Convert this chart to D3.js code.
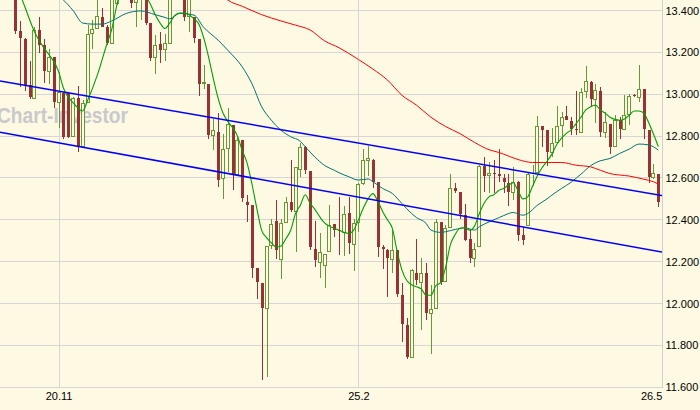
<!DOCTYPE html>
<html>
<head>
<meta charset="utf-8">
<script src="https://cdn.jsdelivr.net/npm/d3@7"></script>
<style>
  body { margin: 0; background: #fef9e3; }
  svg { display: block; font-family: "Liberation Sans", Arial, sans-serif; }
</style>
</head>
<body>
<div id="chart"></div>
<script>
// daily candles (first ones are cut at the top)
var openP = [13.56,13.301,13.263,13.043,12.975,13.306,13.234,13.107,13.176,12.956,
  13.008,13.007,12.797,12.980,12.749,12.959,13.287,13.314,13.370,13.319,
  13.242,13.430,13.520,13.600,13.500,13.434,13.460,13.470,13.338,13.171,
  13.238,13.211,13.242,13.480,13.550,13.480,13.367,13.367,13.262,13.047,
  13.048,12.801,12.820,12.593,12.736,12.852,12.613,12.781,12.483,12.470,
  12.168,12.099,11.972,12.274,12.395,12.207,12.386,12.486,12.438,12.640,
  12.749,12.634,12.263,12.195,12.180,12.244,12.379,12.351,12.335,12.434,
  12.282,12.383,12.569,12.682,12.688,12.582,12.271,12.258,12.207,12.255,
  12.040,11.897,11.742,12.148,12.096,12.148,11.948,11.976,12.392,12.104,
  12.362,12.550,12.531,12.422,12.308,12.215,12.268,12.658,12.609,12.626,
  12.617,12.601,12.577,12.526,12.582,12.327,12.371,12.618,12.625,12.849,
  12.828,12.720,12.765,12.849,12.895,12.873,12.836,12.816,13.012,13.059,
  12.972,13.016,12.816,12.860,12.746,12.876,12.828,12.900,12.996,12.984,
  13.027,12.828,12.598,12.621];
var highP = [13.60,13.351,13.270,13.158,13.319,13.367,13.262,13.214,13.180,13.107,
  13.010,13.012,12.988,13.039,12.972,13.330,13.354,13.500,13.414,13.330,
  13.500,13.530,13.620,13.640,13.530,13.500,13.520,13.500,13.340,13.282,
  13.298,13.290,13.520,13.600,13.600,13.500,13.500,13.370,13.262,13.139,
  13.050,12.884,12.908,12.812,12.935,12.855,12.800,12.781,12.518,12.470,
  12.168,12.100,12.274,12.406,12.494,12.406,12.507,12.685,12.653,12.768,
  12.755,12.634,12.395,12.338,12.239,12.470,12.379,12.510,12.465,12.510,
  12.402,12.577,12.738,12.752,12.690,12.582,12.282,12.260,12.351,12.255,
  12.096,11.929,12.163,12.308,12.218,12.195,12.088,12.402,12.392,12.375,
  12.621,12.577,12.535,12.478,12.354,12.287,12.661,12.698,12.674,12.688,
  12.736,12.621,12.621,12.653,12.585,12.367,12.625,12.661,12.895,12.850,
  12.830,12.839,12.943,12.916,12.943,12.892,13.015,13.032,13.134,13.062,
  13.047,13.035,12.916,12.860,12.900,12.889,12.996,12.999,13.000,13.139,
  13.027,12.828,12.669,12.621];
var lowP = [13.290,13.035,13.016,12.977,12.975,13.198,13.055,13.051,12.935,12.840,
  12.784,12.789,12.797,12.725,12.749,12.959,13.214,13.314,13.322,13.234,
  13.242,13.425,13.480,13.490,13.414,13.322,13.354,13.330,13.160,13.096,
  13.147,13.160,13.242,13.460,13.470,13.351,13.298,13.246,12.992,13.023,
  12.784,12.733,12.558,12.499,12.629,12.542,12.613,12.486,12.390,12.123,
  12.021,11.637,11.647,12.263,12.215,12.115,12.386,12.438,12.247,12.606,
  12.621,12.258,12.176,12.120,12.072,12.244,12.319,12.231,12.228,12.239,
  12.156,12.343,12.566,12.609,12.550,12.223,12.163,12.032,12.144,12.032,
  11.817,11.733,11.742,12.088,11.876,11.921,11.758,11.976,12.088,12.104,
  12.362,12.526,12.406,12.298,12.196,12.176,12.268,12.534,12.529,12.529,
  12.582,12.526,12.467,12.494,12.300,12.279,12.371,12.564,12.625,12.749,
  12.658,12.701,12.765,12.749,12.876,12.805,12.805,12.816,12.980,12.940,
  12.863,12.797,12.792,12.714,12.746,12.784,12.828,12.852,12.988,12.964,
  12.784,12.574,12.594,12.459];
var closeP = [13.301,13.269,13.040,12.988,13.309,13.234,13.112,13.176,12.964,13.012,
  12.797,12.797,12.980,12.749,12.959,13.290,13.314,13.373,13.322,13.246,
  13.470,13.500,13.580,13.520,13.437,13.480,13.500,13.338,13.171,13.234,
  13.211,13.247,13.470,13.550,13.500,13.367,13.460,13.269,13.051,13.059,
  12.805,12.828,12.590,12.738,12.857,12.618,12.781,12.505,12.473,12.168,
  12.104,11.977,12.274,12.379,12.258,12.386,12.486,12.449,12.653,12.749,
  12.637,12.268,12.207,12.247,12.239,12.375,12.351,12.348,12.430,12.290,
  12.383,12.569,12.685,12.693,12.582,12.271,12.262,12.220,12.258,12.048,
  11.900,11.746,12.160,12.112,12.147,11.956,11.972,12.392,12.101,12.362,
  12.550,12.539,12.427,12.303,12.219,12.263,12.656,12.609,12.626,12.617,
  12.610,12.582,12.534,12.582,12.327,12.303,12.621,12.621,12.849,12.828,
  12.725,12.765,12.849,12.892,12.879,12.832,12.828,13.012,13.062,12.975,
  13.020,12.820,12.868,12.749,12.879,12.836,12.900,12.992,12.991,13.027,
  12.836,12.605,12.626,12.486];

// moving averages, [candle index, price]
var fastMA = [[1.5,13.45],[2,13.42],[4,13.30],[6,13.22],[7,13.19],[9,13.11],[10,13.03],[12,12.96],
  [13,12.935],[14,12.92],[15,12.97],[17,13.09],[19,13.24],[20,13.31],[21,13.42],[22,13.50],
  [24,13.53],[26,13.52],[27,13.47],[28,13.43],[29,13.38],[30,13.34],[31,13.314],[32,13.34],
  [33,13.375],[34,13.388],[35,13.388],[36,13.38],[37,13.36],[38,13.335],[39,13.27],[40,13.18],
  [41,13.075],[42,12.98],[43,12.91],[44,12.87],[45,12.84],[46,12.80],[47,12.73],[48,12.67],
  [49,12.57],[50,12.454],[51,12.35],[52,12.315],[53,12.29],[54,12.27],[55,12.275],[56,12.31],
  [57,12.35],[58,12.43],[59,12.47],[60,12.52],[61,12.48],[62,12.45],[63,12.415],[64,12.385],
  [65,12.37],[66,12.36],[67,12.35],[68,12.34],[69,12.335],[70,12.35],[71,12.40],[72,12.455],
  [73,12.50],[74,12.525],[75,12.49],[76,12.44],[77,12.40],[78,12.36],[79,12.25],[80,12.16],
  [81,12.11],[82,12.09],[83,12.08],[84,12.07],[85,12.04],[86,12.04],[87,12.085],[88,12.10],
  [89,12.17],[90,12.28],[91,12.33],[92,12.36],[93,12.362],[94,12.35],[95,12.37],[96,12.43],
  [97,12.48],[98,12.51],[99,12.52],[100,12.54],[101,12.55],[102,12.565],[103,12.577],[104,12.54],
  [105,12.50],[106,12.51],[107,12.56],[108,12.61],[109,12.65],[110,12.68],[111,12.714],[112,12.76],
  [113,12.79],[114,12.813],[115,12.83],[116,12.86],[117,12.89],[118,12.925],[119,12.94],[120,12.948],
  [121,12.925],[122,12.91],[123,12.89],[124,12.88],[125,12.876],[126,12.882],[127,12.90],[128,12.92],
  [129,12.92],[130,12.91],[131,12.865],[132,12.81],[133,12.75]];
var midMA = [[9.5,13.46],[10,13.45],[12,13.40],[14,13.34],[16,13.335],[18,13.335],[20,13.35],[23,13.386],
  [26,13.398],[29,13.38],[31,13.367],[32,13.36],[34,13.386],[37,13.378],[39,13.32],[42,13.258],
  [44,13.21],[47,13.13],[49,13.05],[51,12.94],[53,12.876],[55,12.828],[57,12.797],[59,12.775],
  [60,12.749],[62,12.70],[64,12.66],[66,12.637],[67,12.625],[69,12.606],[71,12.59],[73,12.595],
  [74,12.582],[76,12.55],[78,12.526],[80,12.478],[82,12.43],[83,12.411],[85,12.383],[86,12.351],
  [88,12.34],[89,12.343],[91,12.354],[93,12.362],[95,12.351],[96,12.367],[98,12.39],[100,12.41],
  [101,12.42],[103,12.435],[105,12.422],[106,12.43],[108,12.47],[110,12.50],[111,12.518],[113,12.55],
  [115,12.58],[117,12.618],[119,12.658],[121,12.682],[123,12.693],[125,12.717],[127,12.738],[129,12.762],
  [131,12.758],[132,12.749],[133,12.733]];
var slowMA = [[43,13.47],[44,13.45],[47,13.42],[51,13.38],[55,13.35],[58,13.33],[61,13.307],[64,13.255],
  [67,13.222],[71,13.166],[74,13.12],[77,13.068],[80,12.995],[83,12.948],[86,12.89],[89,12.846],
  [92,12.812],[95,12.77],[98,12.735],[100,12.722],[101,12.714],[104,12.688],[107,12.674],[111,12.674],
  [113,12.674],[116,12.661],[119,12.653],[121,12.637],[123,12.621],[127,12.609],[130,12.594],[132,12.582],
  [133,12.571]];

// trend channel, two points each
var upperChannel = [[-3.1, 13.063], [134.3, 12.514]];
var lowerChannel = [[-3.1, 12.818], [134.0, 12.245]];

var priceTicks = [13.4, 13.2, 13.0, 12.8, 12.6, 12.4, 12.2, 12.0, 11.8, 11.6];
var dateTickIdx = [9, 71, 133];
var dateLabels = ["20.11", "25.2", "26.5"];
var gridDateIdx = [9, 71];

var width = 700, height = 410;
var plotRight = 663, plotBottom = 387;
var bg = "#fef9e3";

var svg = d3.select("#chart").append("svg")
  .attr("width", width)
  .attr("height", height);

svg.append("rect").attr("width", width).attr("height", height).attr("fill", bg);

var x = d3.scaleLinear().domain([0, 133]).range([15, 658.3]);
var y = d3.scaleLinear().domain([11.6, 13.4]).range([387.3, 10.5]);

svg.append("clipPath").attr("id", "plotClip")
  .append("rect").attr("x", 0).attr("y", 0).attr("width", plotRight).attr("height", plotBottom + 1);

// grid
var grid = svg.append("g").attr("shape-rendering", "crispEdges");
grid.selectAll("line.h").data(priceTicks).enter().append("line")
  .attr("class", "h")
  .attr("x1", 0).attr("x2", plotRight)
  .attr("y1", function(d) { return Math.floor(y(d)) + 0.5; })
  .attr("y2", function(d) { return Math.floor(y(d)) + 0.5; })
  .attr("stroke", "#d6d6d6");
grid.selectAll("line.v").data(gridDateIdx).enter().append("line")
  .attr("class", "v")
  .attr("x1", function(d) { return Math.round(x(d)) + 0.5; })
  .attr("x2", function(d) { return Math.round(x(d)) + 0.5; })
  .attr("y1", 0).attr("y2", plotBottom)
  .attr("stroke", "#d6d6d6");

var plot = svg.append("g").attr("clip-path", "url(#plotClip)");

// watermark
plot.append("text")
  .attr("x", -3).attr("y", 123)
  .attr("font-size", 22).attr("font-weight", "bold")
  .attr("textLength", 131).attr("lengthAdjust", "spacingAndGlyphs")
  .attr("fill", "#c9c9cd")
  .text("Chart-Investor");

// candles
var candles = d3.range(openP.length).map(function(i) {
  return { i: i, o: openP[i], h: highP[i], l: lowP[i], c: closeP[i] };
});

var cg = plot.append("g").attr("shape-rendering", "crispEdges");
candles.forEach(function(d) {
  var cx = Math.round(x(d.i));
  var up = d.c >= d.o;
  var yTop = Math.round(y(Math.max(d.o, d.c)));
  var yBot = Math.round(y(Math.min(d.o, d.c)));
  if (yBot - yTop < 1) yBot = yTop + 1;
  var yHi = Math.round(y(d.h));
  var yLo = Math.round(y(d.l));
  if (up) {
    var col = "#669933";
    if (yHi < yTop) cg.append("line").attr("x1", cx + 0.5).attr("x2", cx + 0.5)
      .attr("y1", yHi).attr("y2", yTop).attr("stroke", col);
    if (yLo > yBot) cg.append("line").attr("x1", cx + 0.5).attr("x2", cx + 0.5)
      .attr("y1", yBot).attr("y2", yLo).attr("stroke", col);
    cg.append("rect")
      .attr("x", cx - 1.5).attr("y", yTop + 0.5)
      .attr("width", 3).attr("height", Math.max(yBot - yTop - 1, 0))
      .attr("fill", bg).attr("stroke", col);
  } else {
    var colR = "#993333";
    cg.append("line").attr("x1", cx + 0.5).attr("x2", cx + 0.5)
      .attr("y1", yHi).attr("y2", yLo).attr("stroke", colR);
    cg.append("rect")
      .attr("x", cx - 1).attr("y", yTop)
      .attr("width", 3).attr("height", yBot - yTop)
      .attr("fill", colR);
  }
});

// moving averages
var maLine = d3.line()
  .x(function(d) { return x(d[0]); })
  .y(function(d) { return y(d[1]); })
  .curve(d3.curveMonotoneX);

plot.append("path").datum(slowMA).attr("d", maLine)
  .attr("fill", "none").attr("stroke", "#ff0000").attr("stroke-width", 1);
plot.append("path").datum(midMA).attr("d", maLine)
  .attr("fill", "none").attr("stroke", "#007373").attr("stroke-width", 1);
plot.append("path").datum(fastMA).attr("d", maLine)
  .attr("fill", "none").attr("stroke", "#00a000").attr("stroke-width", 1.1);

// channel
var chLine = d3.line()
  .x(function(d) { return x(d[0]); })
  .y(function(d) { return y(d[1]); });
[upperChannel, lowerChannel].forEach(function(ch) {
  plot.append("path").datum(ch).attr("d", chLine)
    .attr("fill", "none").attr("stroke", "#0000ff").attr("stroke-width", 1.5);
});

// price axis on the right
var yAxis = d3.axisRight(y)
  .tickValues(priceTicks)
  .tickFormat(d3.format(".3f"))
  .tickSize(0)
  .tickPadding(3);
var ya = svg.append("g")
  .attr("transform", "translate(" + (plotRight - 0.5) + ",0)")
  .call(yAxis);
ya.select(".domain").attr("stroke", "#cfcfcf").attr("d", "M0,0V" + (plotBottom + 1));
ya.selectAll("text").attr("font-size", 11).attr("fill", "#000")
  .attr("font-family", "'Liberation Sans', Arial, sans-serif");

// date axis
var xAxis = d3.axisBottom(x)
  .tickValues(dateTickIdx)
  .tickFormat(function(d, i) { return dateLabels[i]; })
  .tickSize(0)
  .tickPadding(5);
var xa = svg.append("g")
  .attr("transform", "translate(0," + plotBottom + ")")
  .call(xAxis);
xa.select(".domain").remove();
xa.selectAll("text").attr("font-size", 11).attr("fill", "#000")
  .attr("font-family", "'Liberation Sans', Arial, sans-serif");
xa.selectAll(".tick").filter(function(d, i) { return i === dateTickIdx.length - 1; })
  .select("text").attr("text-anchor", "end").attr("x", 3.5);
</script>
</body>
</html>
